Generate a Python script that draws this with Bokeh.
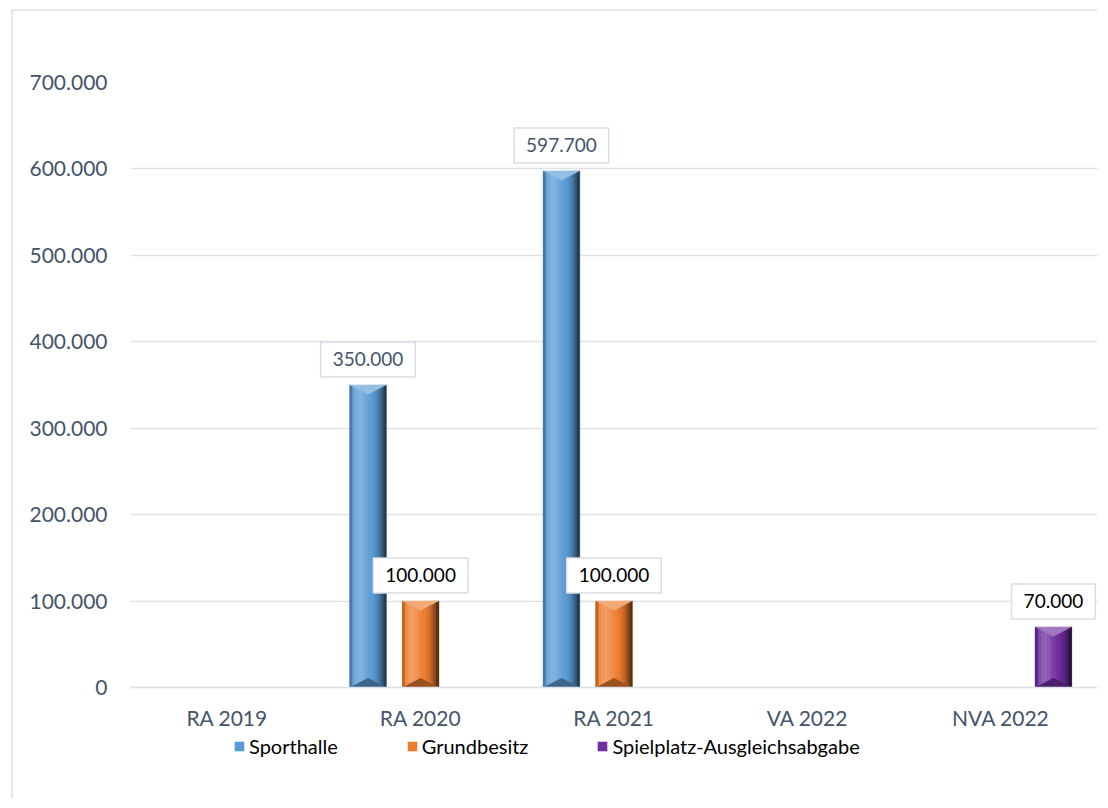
from bokeh.plotting import figure
from bokeh.models import Range1d, FixedTicker, Legend, LegendItem, ColumnDataSource
from bokeh.embed import file_html
from bokeh.resources import INLINE
from bokeh.core.properties import value

# ---- data ----
categories = ["RA 2019", "RA 2020", "RA 2021", "VA 2022", "NVA 2022"]
series_names = ["Sporthalle", "Grundbesitz", "Spielplatz-Ausgleichsabgabe"]
sporthalle = [0, 350000, 597700, 0, 0]
grundbesitz = [0, 100000, 100000, 0, 0]
spielplatz = [0, 0, 0, 0, 70000]
y_tick_values = [0, 100000, 200000, 300000, 400000, 500000, 600000, 700000]
y_tick_labels = ["0", "100.000", "200.000", "300.000", "400.000", "500.000", "600.000", "700.000"]

# ---- style ----
series_values = [sporthalle, grundbesitz, spielplatz]
base_colors = ["#5B9BD5", "#ED7D31", "#7030A0"]
label_colors = ["#44546A", "#000000", "#000000"]
offsets = [-0.272, 0.0, 0.272]
bar_w = 0.19
bevel_h = 11000
y_low = -98350          # room below the zero line for the axis labels and legend
profile = [-0.2, 0.12, 0.22, 0.25, 0.2, 0.12, 0.05, 0.0, -0.08, -0.2, -0.38, -0.6]
grid_col = "#DEE1E6"
axis_text = "#44546A"
FONT = "Lato"


def shade(hexc, f):
    c = [int(hexc[i:i + 2], 16) for i in (1, 3, 5)]
    if f >= 0:
        c = [v + (255 - v) * f for v in c]
    else:
        c = [v * (1 + f) for v in c]
    return "#%02x%02x%02x" % tuple(int(round(v)) for v in c)


p = figure(width=1086, height=789, x_range=Range1d(0, len(categories)),
           y_range=Range1d(y_low, 700000), output_backend="svg", toolbar_location=None,
           min_border_left=117, min_border_top=71, min_border_right=2, min_border_bottom=28)
p.styles = {"margin-left": "11px", "margin-top": "9px",
            "border-top": "2px solid #E3E6EA", "border-left": "2px solid #E3E6EA"}
p.outline_line_color = None
p.background_fill_color = "white"
p.border_fill_color = "white"

cat_pos = [i + 0.5 for i in range(len(categories))]
p.xaxis.ticker = FixedTicker(ticks=cat_pos)
p.xaxis.major_label_overrides = {x: c for x, c in zip(cat_pos, categories)}
p.xaxis.fixed_location = 0
p.yaxis.ticker = FixedTicker(ticks=y_tick_values)
p.yaxis.major_label_overrides = {v: l for v, l in zip(y_tick_values, y_tick_labels)}
for ax in (p.xaxis[0], p.yaxis[0]):
    ax.major_tick_line_color = None
    ax.minor_tick_line_color = None
    ax.major_tick_out = 0
    ax.major_tick_in = 0
    ax.major_label_text_font = FONT
    ax.major_label_text_font_size = "21px"
    ax.major_label_text_color = axis_text
p.yaxis.axis_line_color = None
p.yaxis.major_label_standoff = 23
p.xaxis.axis_line_color = grid_col
p.xaxis.axis_line_width = 1.6
p.xaxis.major_label_standoff = 18
p.xgrid.visible = False
p.ygrid.grid_line_color = grid_col
p.ygrid.grid_line_width = 1.6

legend_items = []
for s, (name, vals) in enumerate(zip(series_names, series_values)):
    base = base_colors[s]
    xs = [i + 0.5 + offsets[s] for i, v in enumerate(vals) if v > 0]
    tops = [v for v in vals if v > 0]
    body = p.vbar(x=xs, top=tops, bottom=0, width=bar_w, fill_color=base, line_color=None)
    n = len(profile)
    sw = bar_w / n
    for k, f in enumerate(profile):
        col = shade(base, f)
        p.vbar(x=[x - bar_w / 2 + (k + 0.5) * sw for x in xs], top=tops, bottom=0,
               width=sw, fill_color=col, line_color=col, line_width=0.4)
    # bevel triangles
    top_x, top_y, bot_x, bot_y = [], [], [], []
    for x, t in zip(xs, tops):
        h = min(bevel_h, t / 2)
        top_x.append([x - bar_w / 2, x + bar_w / 2, x])
        top_y.append([t, t, t - h])
        bot_x.append([x - bar_w / 2, x + bar_w / 2, x])
        bot_y.append([0, 0, h])
    p.patches(xs=top_x, ys=top_y, fill_color=shade(base, 0.35), line_color=None)
    p.patches(xs=bot_x, ys=bot_y, fill_color=shade(base, -0.35), line_color=None)
    # data labels
    src = ColumnDataSource(dict(x=xs, y=tops, label=[f"{v:,}".replace(",", ".") for v in tops]))
    p.text(x="x", y="y", text="label", source=src, text_align="center", text_baseline="bottom",
           y_offset=-8, text_font=value(FONT), text_font_size="19px", text_color=label_colors[s],
           background_fill_color="white", border_line_color="#D9DDE3", border_line_width=1.5,
           padding=dict(left=12, right=12, top=10, bottom=11))
    legend_items.append(LegendItem(label=name, renderers=[body]))

legend = Legend(items=legend_items, orientation="horizontal", location=(103, 13),
                padding=0, margin=0, spacing=68, label_standoff=4, glyph_width=12, glyph_height=12,
                label_height=26, label_text_font=FONT, label_text_font_size="20px",
                label_text_color="black", border_line_color=None, background_fill_alpha=0)
p.add_layout(legend)

open("out.html", "w").write(file_html(p, INLINE))
